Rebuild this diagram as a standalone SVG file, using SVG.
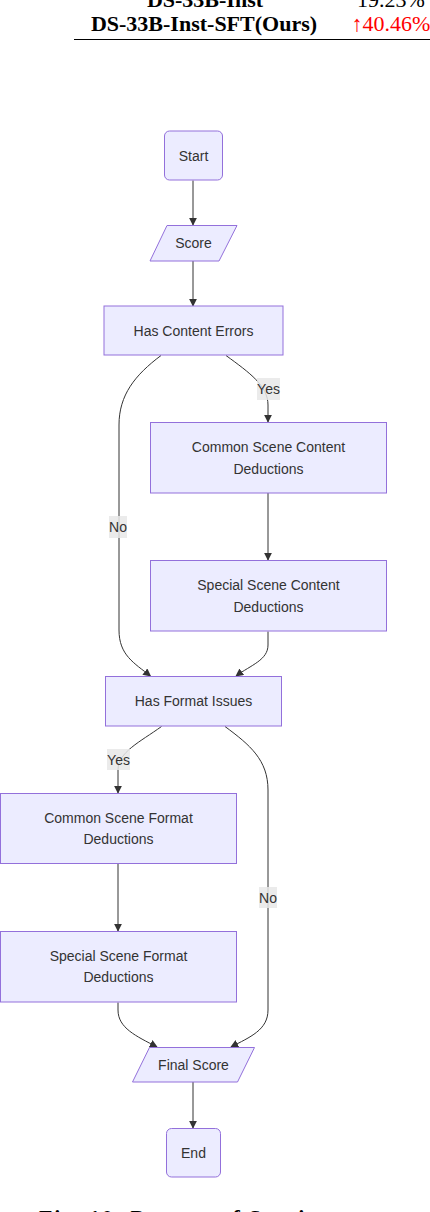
<svg xmlns="http://www.w3.org/2000/svg" width="430" height="1212" viewBox="0 0 430 1212">
<style>
.node rect, .node polygon { fill: #ECECFF; stroke: #9370DB; stroke-width: 1; }
.lbl { font-family: "Liberation Sans", Arial, sans-serif; font-size: 14px; fill: #333; text-anchor: middle; dominant-baseline: central; }
.edge { fill: none; stroke: #333; stroke-width: 1; }
.elbg { fill: #E8E8E8; opacity: 0.85; }
.tbl { font-family: "Liberation Serif", "Times New Roman", serif; font-size: 22px; }
</style>
<defs>
<marker id="arrow" viewBox="0 0 10 10" refX="9" refY="5" markerWidth="8" markerHeight="8" markerUnits="userSpaceOnUse" orient="auto">
<path d="M0,0 L10,5 L0,10 z" fill="#333"/>
</marker>
</defs>
<rect width="430" height="1212" fill="#fff"/>

<g id="table-fragment">
<text class="tbl" x="205" y="7" text-anchor="middle" font-weight="bold" fill="#000">DS-33B-Inst</text>
<text class="tbl" x="391" y="7" text-anchor="middle" fill="#000">19.23%</text>
<text class="tbl" x="204" y="31" text-anchor="middle" font-weight="bold" fill="#000">DS-33B-Inst-SFT(Ours)</text>
<text class="tbl" x="391" y="31" text-anchor="middle" fill="#FF0000">↑40.46%</text>
<line x1="74" y1="39.5" x2="430" y2="39.5" stroke="#000" stroke-width="1.2"/>
</g>

<g id="connectors">
<path class="edge" d="M193,180.5 L193,225" marker-end="url(#arrow)"/>
<path class="edge" d="M193,261 L193,306" marker-end="url(#arrow)"/>
<path class="edge" d="M226,355.5 C250,373 268,386 268,405 L268,422" marker-end="url(#arrow)"/>
<path class="edge" d="M161,355.5 C135,375 119,395 119,425 L119,630 C119,655 134,663 150.5,676" marker-end="url(#arrow)"/>
<path class="edge" d="M268,493 L268,560" marker-end="url(#arrow)"/>
<path class="edge" d="M268,631.5 L268,645 C268,660 251,665 236,676" marker-end="url(#arrow)"/>
<path class="edge" d="M161.5,726.5 C140,742 118,752 118,770 L118,793" marker-end="url(#arrow)"/>
<path class="edge" d="M225,726.5 C250,745 268,760 268,790 L268,1010 C268,1030 250,1037 231,1047" marker-end="url(#arrow)"/>
<path class="edge" d="M118,863.5 L118,931" marker-end="url(#arrow)"/>
<path class="edge" d="M118,1002.5 L118,1010 C118,1028 136,1036 157,1047" marker-end="url(#arrow)"/>
<path class="edge" d="M193,1082 L193,1128" marker-end="url(#arrow)"/>
<rect class="elbg" x="257" y="378" width="23" height="22"/>
<text class="lbl" x="268.5" y="389">Yes</text>
<rect class="elbg" x="109" y="516" width="18" height="22"/>
<text class="lbl" x="118" y="527">No</text>
<rect class="elbg" x="107" y="749" width="23" height="21"/>
<text class="lbl" x="118.5" y="759.5">Yes</text>
<rect class="elbg" x="259" y="887" width="18" height="21"/>
<text class="lbl" x="268" y="897.5">No</text>
</g>

<g id="start" class="node">
<rect x="164.5" y="131" width="58" height="49" rx="5" ry="5"/>
<text class="lbl" x="193.5" y="155.5">Start</text>
</g>
<g id="score" class="node">
<polygon points="167,225.5 237,225.5 219,261 150,261"/>
<text class="lbl" x="193.5" y="243">Score</text>
</g>
<g id="has-content-errors" class="node">
<rect x="104" y="306" width="179" height="49"/>
<text class="lbl" x="193.5" y="330.5">Has Content Errors</text>
</g>
<g id="common-content" class="node">
<rect x="150.5" y="422.5" width="236" height="70.5"/>
<text class="lbl" x="268.5" y="447">Common Scene Content</text>
<text class="lbl" x="268.5" y="468.5">Deductions</text>
</g>
<g id="special-content" class="node">
<rect x="150.5" y="560.5" width="236" height="70.5"/>
<text class="lbl" x="268.5" y="585">Special Scene Content</text>
<text class="lbl" x="268.5" y="606.5">Deductions</text>
</g>
<g id="has-format-issues" class="node">
<rect x="105.5" y="676.5" width="176" height="49.5"/>
<text class="lbl" x="193.5" y="701">Has Format Issues</text>
</g>
<g id="common-format" class="node">
<rect x="0.5" y="793.5" width="236" height="70"/>
<text class="lbl" x="118.5" y="817.5">Common Scene Format</text>
<text class="lbl" x="118.5" y="839">Deductions</text>
</g>
<g id="special-format" class="node">
<rect x="0.5" y="931.5" width="236" height="70.5"/>
<text class="lbl" x="118.5" y="955.5">Special Scene Format</text>
<text class="lbl" x="118.5" y="977">Deductions</text>
</g>
<g id="final-score" class="node">
<polygon points="149.5,1047.5 254.5,1047.5 237.5,1082 132.5,1082"/>
<text class="lbl" x="193.5" y="1065">Final Score</text>
</g>
<g id="end" class="node">
<rect x="166.5" y="1128.5" width="54" height="48.5" rx="5" ry="5"/>
<text class="lbl" x="193.5" y="1152.5">End</text>
</g>

<g id="caption">
<text class="tbl" x="39" y="1225" font-weight="bold" fill="#000" textLength="292" lengthAdjust="spacing">Fig. 10: Process of Scoring</text>
</g>
</svg>
